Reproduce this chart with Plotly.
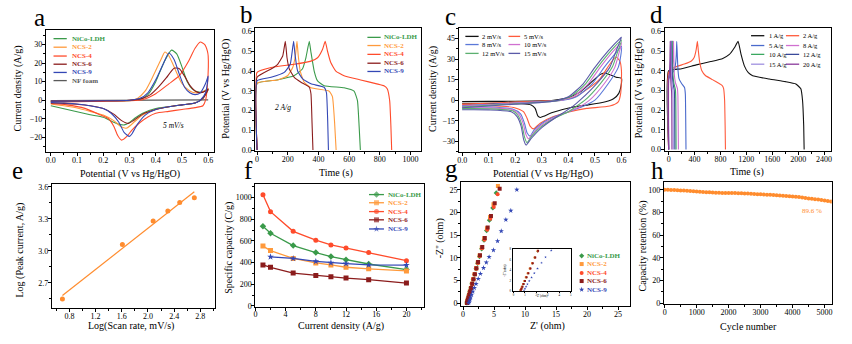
import numpy as np
import plotly.graph_objects as go

W, H = 852, 344
SERIF = "Liberation Serif, Times New Roman, serif"

GREEN = "#3a9a4a"; ORANGE = "#ff9a3c"; RED = "#ff4b2b"; DRED = "#8b1c1c"; BLUE = "#3347b5"; GRAY = "#5a5a5a"

# ---------------- panel a : CV of samples at 5 mV/s ----------------
a_names = ["NiCo-LDH", "NCS-2", "NCS-4", "NCS-6", "NCS-9", "NF foam"]
a_ldh_x = [0.00,0.10,0.20,0.30,0.34,0.37,0.40,0.43,0.46,0.48,0.50,0.52,0.54,0.56,0.58,0.60,
           0.58,0.55,0.50,0.45,0.40,0.35,0.32,0.30,0.28,0.25,0.20,0.15,0.10,0.05,0.00]
a_ldh_y = [-0.8,-0.6,-0.4,-0.2,0.5,3.0,10.0,20.0,27.0,25.0,18.0,10.0,6.0,4.5,4.5,6.0,
           1.0,-1.5,-2.5,-3.5,-4.5,-7.0,-9.7,-12.0,-13.3,-12.5,-9.2,-7.8,-6.2,-4.6,-3.0]
a_ncs2_x = [0.00,0.10,0.20,0.30,0.33,0.36,0.39,0.42,0.435,0.45,0.47,0.50,0.53,0.55,0.58,0.60,
            0.58,0.55,0.50,0.45,0.40,0.35,0.32,0.29,0.27,0.24,0.20,0.15,0.10,0.05,0.00]
a_ncs2_y = [-0.5,-0.4,-0.3,0.0,1.0,5.0,13.0,22.0,26.0,24.0,18.0,9.0,5.0,4.0,4.5,6.0,
            1.0,-1.5,-2.5,-3.5,-5.0,-8.0,-11.5,-15.0,-14.5,-11.0,-8.0,-6.0,-4.2,-3.0,-2.0]
a_ncs4_x = [0.00,0.10,0.20,0.30,0.35,0.40,0.45,0.49,0.525,0.55,0.57,0.587,0.597,0.60,
            0.598,0.59,0.58,0.55,0.50,0.45,0.40,0.37,0.34,0.31,0.29,0.27,0.255,0.24,0.22,0.19,0.13,0.06,0.00]
a_ncs4_y = [-1.0,-0.8,-0.6,-0.3,0.3,3.5,8.8,13.2,21.0,28.0,31.4,30.0,26.5,23.8,
            10.0,0.0,-3.0,-4.0,-5.0,-6.0,-7.0,-9.0,-12.0,-16.0,-19.5,-21.5,-19.0,-14.0,-10.0,-8.0,-4.4,-2.5,-1.8]
a_ncs6_x = [0.00,0.10,0.20,0.30,0.35,0.38,0.41,0.44,0.47,0.49,0.51,0.53,0.55,0.57,0.59,0.60,
            0.58,0.55,0.50,0.45,0.40,0.35,0.32,0.295,0.27,0.24,0.20,0.15,0.10,0.05,0.00]
a_ncs6_y = [-0.5,-0.4,-0.3,0.0,1.0,3.0,7.0,12.0,17.3,17.0,13.0,8.0,5.0,4.0,5.0,6.0,
            1.0,-1.5,-2.5,-3.5,-5.0,-7.5,-10.5,-12.5,-11.0,-7.5,-4.5,-3.0,-2.2,-1.7,-1.5]
a_ncs9_x = [0.00,0.10,0.20,0.30,0.34,0.37,0.40,0.43,0.45,0.47,0.49,0.51,0.53,0.55,0.57,0.59,0.60,
            0.59,0.57,0.55,0.50,0.45,0.40,0.36,0.33,0.31,0.30,0.28,0.26,0.23,0.20,0.15,0.10,0.05,0.00]
a_ncs9_y = [-0.5,-0.4,-0.3,0.0,1.0,4.0,11.0,20.0,25.5,22.0,14.0,7.0,4.0,3.0,4.0,9.0,13.0,
            4.0,0.0,-1.5,-2.5,-3.5,-5.0,-8.0,-13.0,-18.0,-19.5,-17.5,-12.0,-7.0,-4.5,-3.0,-2.0,-1.5,-1.2]
a_nf_x = [0.00, 0.30, 0.60]
a_nf_y = [-0.2, 0.0, 0.2]

# ---------------- panel b : GCD of samples at 2 A/g ----------------
b_ldh_t = [0,0,130,240,295,318,340,350,372,394,437,567,632,654,665,673]
b_ldh_v = [0,0.338,0.355,0.376,0.41,0.467,0.55,0.50,0.40,0.35,0.326,0.315,0.298,0.25,0.12,0]
b_ncs2_t = [0,0,134,199,232,250,260,268,281,307,351,470,491,505,515]
b_ncs2_v = [0,0.338,0.355,0.376,0.418,0.48,0.55,0.48,0.40,0.343,0.315,0.298,0.27,0.14,0]
b_ncs4_t = [0,0,91,242,351,394,426,444,459,480,513,567,675,780,827,848,864,872,877]
b_ncs4_v = [0,0.393,0.418,0.434,0.45,0.467,0.509,0.55,0.50,0.443,0.40,0.376,0.355,0.335,0.325,0.31,0.25,0.12,0]
b_ncs6_t = [0,0,91,134,167,184,195,210,242,286,340,351,358,364]
b_ncs6_v = [0,0.368,0.41,0.434,0.476,0.55,0.467,0.41,0.368,0.343,0.318,0.285,0.14,0]
b_ncs9_t = [0,0,91,177,216,238,247,264,297,351,437,452,460,465]
b_ncs9_v = [0,0.351,0.368,0.393,0.434,0.55,0.484,0.40,0.36,0.335,0.318,0.29,0.15,0]

# ---------------- panel c : CV of NCS-4 at scan rates ----------------
c_names = ["2 mV/s", "5 mV/s", "8 mV/s", "10 mV/s", "12 mV/s", "15 mV/s"]
c_2_x = [0.00,0.10,0.20,0.30,0.344,0.406,0.444,0.48,0.519,0.535,0.556,0.58,0.60,
         0.598,0.59,0.57,0.54,0.47,0.41,0.34,0.31,0.295,0.285,0.275,0.26,0.22,0.10,0.00]
c_2_y = [-1.0,-0.9,-0.8,-0.5,0.0,2.4,6.0,12.0,18.7,19.9,18.7,16.8,16.0,
         10.0,5.0,1.0,-1.2,-3.6,-5.3,-9.0,-11.5,-12.6,-11.5,-6.0,-3.5,-2.6,-2.3,-2.2]
c_5_x = [0.00,0.10,0.22,0.30,0.369,0.419,0.469,0.519,0.556,0.579,0.594,0.60,
         0.597,0.588,0.556,0.469,0.406,0.344,0.294,0.269,0.256,0.244,0.231,0.194,0.094,0.00]
c_5_y = [-2.9,-2.2,-1.2,-0.6,0.0,1.9,7.7,15.6,26.3,31.6,28.7,21.5,
         4.8,-1.2,-4.3,-6.0,-8.4,-12.0,-16.8,-21.0,-19.0,-13.0,-8.4,-5.3,-3.8,-3.4]
c_8_x = [0.00,0.10,0.20,0.30,0.38,0.43,0.49,0.535,0.585,0.60,
         0.597,0.588,0.55,0.50,0.45,0.40,0.35,0.30,0.27,0.256,0.245,0.235,0.22,0.19,0.10,0.00]
c_8_y = [-4.0,-3.0,-2.0,-1.0,-0.1,2.5,12.0,24.0,36.0,39.5,
         32.0,24.0,12.0,0.0,-5.0,-8.5,-12.0,-17.0,-22.0,-26.3,-24.0,-17.0,-10.0,-6.5,-5.0,-4.8]
c_10_x = [0.00,0.10,0.20,0.30,0.37,0.42,0.475,0.52,0.57,0.60,
          0.59,0.575,0.535,0.48,0.44,0.40,0.35,0.30,0.27,0.25,0.24,0.23,0.215,0.19,0.10,0.00]
c_10_y = [-4.5,-3.4,-2.3,-1.2,-0.2,2.8,12.0,24.0,36.0,42.0,
          34.0,24.0,12.0,0.0,-5.0,-8.5,-12.5,-18.0,-23.5,-28.2,-25.0,-17.0,-10.5,-7.0,-5.6,-5.5]
c_12_x = [0.00,0.10,0.20,0.30,0.36,0.41,0.465,0.51,0.56,0.60,
          0.585,0.565,0.52,0.4625,0.43,0.40,0.35,0.30,0.265,0.244,0.235,0.225,0.21,0.19,0.10,0.00]
c_12_y = [-5.0,-3.8,-2.6,-1.4,-0.3,2.8,12.0,24.0,36.0,44.0,
          35.0,24.0,12.0,0.0,-4.5,-8.5,-13.0,-19.0,-25.5,-31.0,-27.0,-18.0,-11.0,-7.8,-6.3,-6.2]
c_15_x = [0.00,0.10,0.20,0.30,0.35,0.40,0.456,0.50,0.55,0.594,0.60,
          0.58,0.556,0.506,0.444,0.42,0.39,0.35,0.30,0.26,0.241,0.232,0.222,0.207,0.185,0.10,0.00]
c_15_y = [-5.5,-4.2,-2.9,-1.6,-0.5,2.5,12.0,24.0,36.0,45.0,46.0,
          36.0,24.0,12.0,0.0,-4.0,-8.0,-13.0,-20.0,-28.0,-32.8,-29.0,-19.0,-12.0,-8.5,-7.1,-7.0]

# ---------------- panel d : GCD of NCS-4 at current densities ----------------
d_names = ["1 A/g", "2 A/g", "5 A/g", "8 A/g", "10 A/g", "12 A/g", "15 A/g", "20 A/g"]
d_1_t = [0,0,200,426,650,836,938,1015,1072,1118,1169,1230,1297,1554,1800,1964,2041,2067,2085,2092]
d_1_v = [0,0.40,0.41,0.43,0.447,0.463,0.483,0.517,0.55,0.483,0.425,0.39,0.375,0.358,0.345,0.333,0.308,0.25,0.12,0]
d_2_t = b_ncs4_t
d_2_v = b_ncs4_v
d_5_t = [0,0,40,80,105,118,125,135,145,160,200,245,258,264,268]
d_5_v = [0,0.36,0.38,0.40,0.43,0.48,0.55,0.47,0.40,0.36,0.335,0.315,0.28,0.14,0]
d_8_t = [0,0,30,55,68,75,80,88,105,135,143,148,151]
d_8_v = [0,0.37,0.39,0.42,0.47,0.55,0.46,0.38,0.34,0.31,0.27,0.13,0]
d_10_t = [0,0,22,40,50,56,60,67,82,104,110,113,115]
d_10_v = [0,0.365,0.385,0.42,0.47,0.55,0.46,0.38,0.335,0.305,0.26,0.13,0]
d_12_t = [0,0,18,32,40,46,50,56,68,87,92,94,96]
d_12_v = [0,0.36,0.385,0.42,0.47,0.55,0.46,0.38,0.335,0.30,0.26,0.12,0]
d_15_t = [0,0,13,24,30,35,38,43,52,65,69,71,73]
d_15_v = [0,0.36,0.38,0.415,0.47,0.55,0.455,0.375,0.33,0.30,0.25,0.12,0]
d_20_t = [0,0,9,16,20,24,26,30,36,45,48,50,51]
d_20_v = [0,0.355,0.38,0.41,0.46,0.55,0.45,0.37,0.33,0.295,0.25,0.12,0]

# ---------------- panel e : log peak current vs log scan rate ----------------
e_logv = [0.693, 1.609, 2.079, 2.303, 2.485, 2.708]
e_logi = [2.55, 3.06, 3.28, 3.375, 3.455, 3.50]

# ---------------- panel f : rate capability ----------------
f_cd = [1, 2, 5, 8, 10, 12, 15, 20]
f_ldh = [735, 670, 557, 492, 456, 426, 387, 335]
f_ncs2 = [552, 511, 438, 397, 378, 357, 342, 323]
f_ncs4 = [1025, 870, 688, 607, 563, 535, 492, 418]
f_ncs6 = [378, 356, 303, 281, 269, 257, 242, 211]
f_cd9 = [2, 5, 8, 10, 12, 15, 20]
f_ncs9 = [453, 438, 411, 398, 390, 378, 377]

# ---------------- panel g : Nyquist ----------------
g_ldh_x = [0.62,0.68,0.75,0.85,0.97,1.10,1.26,1.44,1.64,1.86,2.10,2.35,2.65,3.00,3.38,3.80,4.25,4.80,5.35]
g_ldh_y = [0.1,0.4,0.8,1.3,1.9,2.6,3.4,4.3,5.3,6.4,7.6,8.8,10.3,12.0,13.9,16.0,18.3,21.0,24.3]
g_ncs2_x = [0.60,0.66,0.73,0.83,0.95,1.08,1.24,1.42,1.62,1.84,2.10,2.36,2.66,3.02,3.42,3.85,4.35,4.90,5.62]
g_ncs2_y = [0.1,0.4,0.8,1.3,1.9,2.6,3.4,4.3,5.3,6.4,7.7,9.0,10.5,12.3,14.3,16.5,19.0,21.8,25.8]
g_ncs4_x = [0.63,0.69,0.77,0.87,0.99,1.13,1.29,1.47,1.67,1.89,2.13,2.40,2.70,3.05,3.45,3.90,4.40,4.95,5.57]
g_ncs4_y = [0.1,0.4,0.8,1.3,1.9,2.6,3.4,4.3,5.3,6.4,7.6,8.9,10.4,12.1,14.0,16.2,18.6,21.2,24.0]
g_ncs6_x = [0.64,0.70,0.78,0.88,1.00,1.14,1.30,1.48,1.68,1.90,2.15,2.42,2.73,3.10,3.50,3.97,4.50,5.10,5.90]
g_ncs6_y = [0.1,0.4,0.8,1.3,1.9,2.6,3.4,4.3,5.3,6.4,7.7,9.1,10.6,12.4,14.4,16.7,19.2,22.0,25.2]
g_ncs9_x = [0.92,1.00,1.10,1.22,1.38,1.58,1.82,2.10,2.45,2.80,3.30,3.75,4.20,4.90,5.57,6.16,6.90,7.70,8.67]
g_ncs9_y = [0.1,0.4,0.8,1.3,1.9,2.6,3.4,4.3,5.4,6.5,7.8,9.0,10.2,11.7,13.7,15.9,18.4,20.4,25.0]

# ---------------- panel h : cycling stability ----------------
h_cycle = list(range(0, 5201, 100))
h_ret = [100.0,99.9,99.8,99.7,99.5,99.4,99.2,99.0,98.8,98.6,
         98.4,98.2,98.0,97.8,97.7,97.5,97.4,97.3,97.2,97.1,
         97.1,97.0,97.0,96.9,96.8,96.7,96.6,96.5,96.3,96.1,
         95.9,95.8,95.6,95.5,95.3,95.1,94.9,94.7,94.5,94.3,
         94.1,93.8,93.5,93.1,92.7,92.3,92.0,91.7,91.3,90.9,
         90.5,90.1,89.6]

sample_colors = [GREEN, ORANGE, RED, DRED, BLUE, GRAY]
c_colors = ["#111111", "#ff5a3c", "#5a78d8", "#d070d0", "#5cb070", "#5a5aa8"]
d_colors = ["#111111", "#ff5a3c", "#4a6acc", "#d070d0", "#3aa860", "#3a4a9a", "#a090e0", "#8b3a9b"]
E_COLOR = "#ff8c2e"

fig = go.Figure()


def sfx(i):
    return "" if i == 1 else str(i)


def add(x, y, color, ax, mode="lines", shape="spline", smooth=0.6, width=1.1, symbol="circle", msize=4):
    fig.add_trace(go.Scatter(
        x=x, y=y, mode=mode,
        line=dict(color=color, width=width, shape=shape, smoothing=smooth if shape == "spline" else None),
        marker=dict(color=color, size=msize, symbol=symbol, line=dict(width=0)),
        xaxis="x" + sfx(ax), yaxis="y" + sfx(ax), showlegend=False, hoverinfo="skip"))


# panel a
add(a_nf_x, a_nf_y, GRAY, 1, shape="linear")
for xs, ys, col in [(a_ldh_x, a_ldh_y, GREEN), (a_ncs2_x, a_ncs2_y, ORANGE), (a_ncs4_x, a_ncs4_y, RED),
                    (a_ncs6_x, a_ncs6_y, DRED), (a_ncs9_x, a_ncs9_y, BLUE)]:
    add(xs, ys, col, 1)
# panel b
for xs, ys, col in [(b_ldh_t, b_ldh_v, GREEN), (b_ncs2_t, b_ncs2_v, ORANGE), (b_ncs4_t, b_ncs4_v, RED),
                    (b_ncs6_t, b_ncs6_v, DRED), (b_ncs9_t, b_ncs9_v, BLUE)]:
    add(xs, ys, col, 2, smooth=0.4)
# panel c
for (xs, ys), col in zip([(c_2_x, c_2_y), (c_5_x, c_5_y), (c_8_x, c_8_y), (c_10_x, c_10_y),
                          (c_12_x, c_12_y), (c_15_x, c_15_y)], c_colors):
    add(xs, ys, col, 3)
# panel d
for (xs, ys), col in zip([(d_1_t, d_1_v), (d_2_t, d_2_v), (d_5_t, d_5_v), (d_8_t, d_8_v), (d_10_t, d_10_v),
                          (d_12_t, d_12_v), (d_15_t, d_15_v), (d_20_t, d_20_v)], d_colors):
    add(xs, ys, col, 4, smooth=0.4)
# panel e
slope, icpt = np.polyfit(e_logv, e_logi, 1)
fit_x = [min(e_logv), max(e_logv)]
fit_y = [slope * v + icpt for v in fit_x]
add(fit_x, fit_y, E_COLOR, 5, shape="linear", width=1.2)
add(e_logv, e_logi, E_COLOR, 5, mode="markers", msize=5)
# panel f
f_series = [(f_cd, f_ldh, GREEN, "diamond"), (f_cd, f_ncs2, ORANGE, "square"), (f_cd, f_ncs4, RED, "circle"),
            (f_cd, f_ncs6, DRED, "square"), (f_cd9, f_ncs9, BLUE, "star")]
for xs, ys, col, sym in f_series:
    add(xs, ys, col, 6, mode="lines+markers", shape="linear", width=1.3, symbol=sym, msize=5)
# panel g + inset
g_series = [(g_ldh_x, g_ldh_y, GREEN, "diamond"), (g_ncs2_x, g_ncs2_y, ORANGE, "square"),
            (g_ncs4_x, g_ncs4_y, RED, "circle"), (g_ncs6_x, g_ncs6_y, DRED, "square"),
            (g_ncs9_x, g_ncs9_y, BLUE, "star")]
for xs, ys, col, sym in g_series:
    add(xs, ys, col, 7, mode="markers", symbol=sym, msize=4)
for xs, ys, col, sym in g_series:
    add(xs, ys, col, 9, mode="markers", symbol=sym, msize=2)
# panel h
add(h_cycle, h_ret, E_COLOR, 8, mode="lines+markers", shape="linear", width=1, msize=4)

# ---------------- legends (drawn on a pixel overlay axis) ----------------
annotations = []


def ptxt(x, y, text, size=10, color="black", xanchor="center", yanchor="middle", angle=0, bold=False, italic=False):
    t = text
    if bold:
        t = "<b>" + t + "</b>"
    if italic:
        t = "<i>" + t + "</i>"
    annotations.append(dict(x=x / W, y=1 - y / H, xref="paper", yref="paper", text=t, showarrow=False,
                            xanchor=xanchor, yanchor=yanchor, textangle=angle,
                            font=dict(family=SERIF, size=size, color=color)))


def leg_line(x0, x1, y, color, symbol=None, msize=0):
    if symbol is None:
        fig.add_trace(go.Scatter(x=[x0, x1], y=[y, y], mode="lines", line=dict(color=color, width=1.3),
                                 xaxis="x10", yaxis="y10", showlegend=False, hoverinfo="skip"))
    else:
        fig.add_trace(go.Scatter(x=[x0, (x0 + x1) / 2, x1], y=[y, y, y], mode="lines+markers",
                                 line=dict(color=color, width=1.3),
                                 marker=dict(size=[0, msize, 0], symbol=symbol, color=color, line=dict(width=0)),
                                 xaxis="x10", yaxis="y10", showlegend=False, hoverinfo="skip"))


# a legend
for name, col, yy in zip(a_names, sample_colors, [37.3, 46, 55, 63.3, 71.7, 80]):
    leg_line(51.7, 65, yy, col)
    ptxt(68.3, yy, name, size=7, color=col, xanchor="left", bold=True)
# b legend
for name, col, yy in zip(a_names[:5], sample_colors[:5], [36, 44.3, 53.3, 62.3, 70.7]):
    leg_line(366.7, 380, yy, col)
    ptxt(381.7, yy, name, size=7, color=col, xanchor="left", bold=True)
# c legend (two columns)
for k, (name, col) in enumerate(zip(c_names, c_colors)):
    row, colm = k // 2, k % 2
    yy = [35, 43.3, 52.3][row]
    x0, x1, xt = [(465, 478.3, 480), (508.3, 520, 521.7)][colm]
    leg_line(x0, x1, yy, col)
    ptxt(xt, yy, name, size=6.5, xanchor="left")
# d legend (two columns)
for k, (name, col) in enumerate(zip(d_names, d_colors)):
    row, colm = k // 2, k % 2
    yy = [34.3, 44.3, 53.3, 63.3][row]
    x0, x1, xt = [(751.7, 765, 767.5), (786.7, 800, 801.7)][colm]
    leg_line(x0, x1, yy, col)
    ptxt(xt, yy, name, size=6.5, xanchor="left")
# f legend
for (xs, ys, col, sym), name, yy in zip(f_series, a_names[:5], [196, 204.3, 213.3, 221.7, 231]):
    leg_line(368.3, 383.3, yy, col, symbol=sym, msize=5)
    ptxt(385, yy, name, size=7, color=col, xanchor="left", bold=True)
# g legend
for (xs, ys, col, sym), name, yy in zip(g_series, a_names[:5], [258.3, 266.7, 275.7, 284, 292.7]):
    fig.add_trace(go.Scatter(x=[581.7], y=[yy], mode="markers",
                             marker=dict(size=4, symbol=sym, color=col, line=dict(width=0)),
                             xaxis="x10", yaxis="y10", showlegend=False, hoverinfo="skip"))
    ptxt(585, yy, name, size=7, color=col, xanchor="left", bold=True)

# ---------------- axes ----------------
def axis(dom, anchor, rng, dtick, minor, tick0=0, fmt=None, fsize=8, tlen=3, mlen=2, standoff=-2):
    d = dict(domain=dom, anchor=anchor, range=rng, tick0=tick0, dtick=dtick, showline=True, mirror=True,
             linecolor="black", linewidth=1, ticks="outside", ticklen=tlen, tickwidth=1, tickcolor="black",
             showgrid=False, zeroline=False, tickfont=dict(family=SERIF, size=fsize, color="black"),
             ticklabelstandoff=standoff,
             minor=dict(ticks="outside", ticklen=mlen, tickwidth=1, tickcolor="black", tick0=tick0, dtick=minor,
                        showgrid=False))
    if fmt:
        d["tickformat"] = fmt
    return d


panels = {
    1: dict(fx=(44, 212.7), fy=(29, 153), xr=[-0.019, 0.622], yr=[-28.1, 37.6], xd=0.1, xm=0.05, yd=10, ym=5, xf=".1f"),
    2: dict(fx=(254.3, 420), fy=(26, 151.7), xr=[-11, 1065], yr=[-0.005, 0.62], xd=200, xm=100, yd=0.1, ym=0.05, yf=".1f"),
    3: dict(fx=(458.3, 630.7), fy=(26, 152.7), xr=[-0.013, 0.634], yr=[-37.9, 53.1], xd=0.1, xm=0.05, yd=15, ym=7.5, xf=".1f"),
    4: dict(fx=(665, 831.7), fy=(26, 151.7), xr=[-61.5, 2503], yr=[-0.0085, 0.62], xd=400, xm=200, yd=0.1, ym=0.05, yf=".1f"),
    5: dict(fx=(50, 213.3), fy=(185, 311.7), xr=[0.531, 3.017], yr=[2.463, 3.63], xd=0.4, xm=0.2, yd=0.3, ym=0.15,
            xf=".1f", yf=".1f", x0=0.8, y0=2.7),
    6: dict(fx=(254.3, 423.3), fy=(185, 310), xr=[0, 22.3], yr=[-6, 1127], xd=4, xm=2, yd=200, ym=100),
    7: dict(fx=(460.7, 630.7), fy=(182.7, 309.3), xr=[-0.32, 27.0], yr=[-0.56, 26.8], xd=5, xm=2.5, yd=5, ym=2.5),
    8: dict(fx=(664.3, 832.7), fy=(182.7, 307.7), xr=[-21, 5224], yr=[-0.86, 107.2], xd=1000, xm=500, yd=20, ym=10),
}
layout_axes = {}
for i, p in panels.items():
    dx = [p["fx"][0] / W, p["fx"][1] / W]
    dy = [1 - p["fy"][1] / H, 1 - p["fy"][0] / H]
    layout_axes["xaxis" + sfx(i)] = axis(dx, "y" + sfx(i), p["xr"], p["xd"], p["xm"], tick0=p.get("x0", 0),
                                         fmt=p.get("xf"), standoff=-3)
    layout_axes["yaxis" + sfx(i)] = axis(dy, "x" + sfx(i), p["yr"], p["yd"], p["ym"], tick0=p.get("y0", 0),
                                         fmt=p.get("yf"))
# inset
layout_axes["xaxis9"] = axis([513.3 / W, 570.7 / W], "y9", [0, 5], 1, 0.5, fsize=3, tlen=1, mlen=0, standoff=0)
layout_axes["yaxis9"] = axis([1 - 294 / H, 1 - 251.7 / H], "x9", [0, 8], 2, 1, fsize=3, tlen=1, mlen=0, standoff=0)
layout_axes["xaxis9"]["linewidth"] = 0.6
layout_axes["yaxis9"]["linewidth"] = 0.6
# overlay for legend keys (pixel coordinates)
layout_axes["xaxis10"] = dict(domain=[0, 1], range=[0, W], visible=False, anchor="y10", fixedrange=True)
layout_axes["yaxis10"] = dict(domain=[0, 1], range=[H, 0], visible=False, anchor="x10", fixedrange=True)

# ---------------- texts ----------------
for lab, x, y in [("a", 37.5, 16), ("b", 245, 13), ("c", 450, 15), ("d", 657, 13),
                  ("e", 16, 171), ("f", 247, 171), ("g", 451, 169), ("h", 658, 171)]:
    ptxt(x, y, lab, size=25)

ptxt(128, 175, "Potential (V vs Hg/HgO)")
ptxt(335, 174, "Time (s)")
ptxt(543, 175, "Potential (V vs Hg/HgO)")
ptxt(748, 173, "Time (s)")
ptxt(129, 330, "Log(Scan rate, mV/s)")
ptxt(340, 330, "Current density (A/g)")
ptxt(547, 330, "Z' (ohm)")
ptxt(749, 330, "Cycle number")
ptxt(17, 88, "Current density (A/g)", angle=-90)
ptxt(225, 88, "Potential (V vs Hg/HgO)", angle=-90)
ptxt(433, 88, "Current density (A/g)", angle=-90)
ptxt(640, 88, "Potential (V vs Hg/HgO)", angle=-90)
ptxt(18, 252, "Log (Peak current, A/g)", angle=-90)
ptxt(227, 250, "Specific capacity (C/g)", angle=-90)
ptxt(439, 240, "-Z'' (ohm)", angle=-90)
ptxt(643, 248, "Capacity retention (%)", angle=-90)
ptxt(542, 299, "Z' (ohm)", size=3)
ptxt(505, 273, "-Z'' (ohm)", size=3, angle=-90)
ptxt(172, 126, "5 mV/s", size=7.5, italic=True)
ptxt(282, 107, "2 A/g", size=7.5, italic=True)
ptxt(813, 213, "89.6 %", size=7, color=E_COLOR)

fig.update_layout(width=W, height=H, margin=dict(l=0, r=0, t=0, b=0), paper_bgcolor="white",
                  plot_bgcolor="rgba(0,0,0,0)", showlegend=False, annotations=annotations, **layout_axes)
fig.write_html("out.html", config={"displayModeBar": False},
               post_script="document.body.style.margin='0px';document.body.style.padding='0px';")
